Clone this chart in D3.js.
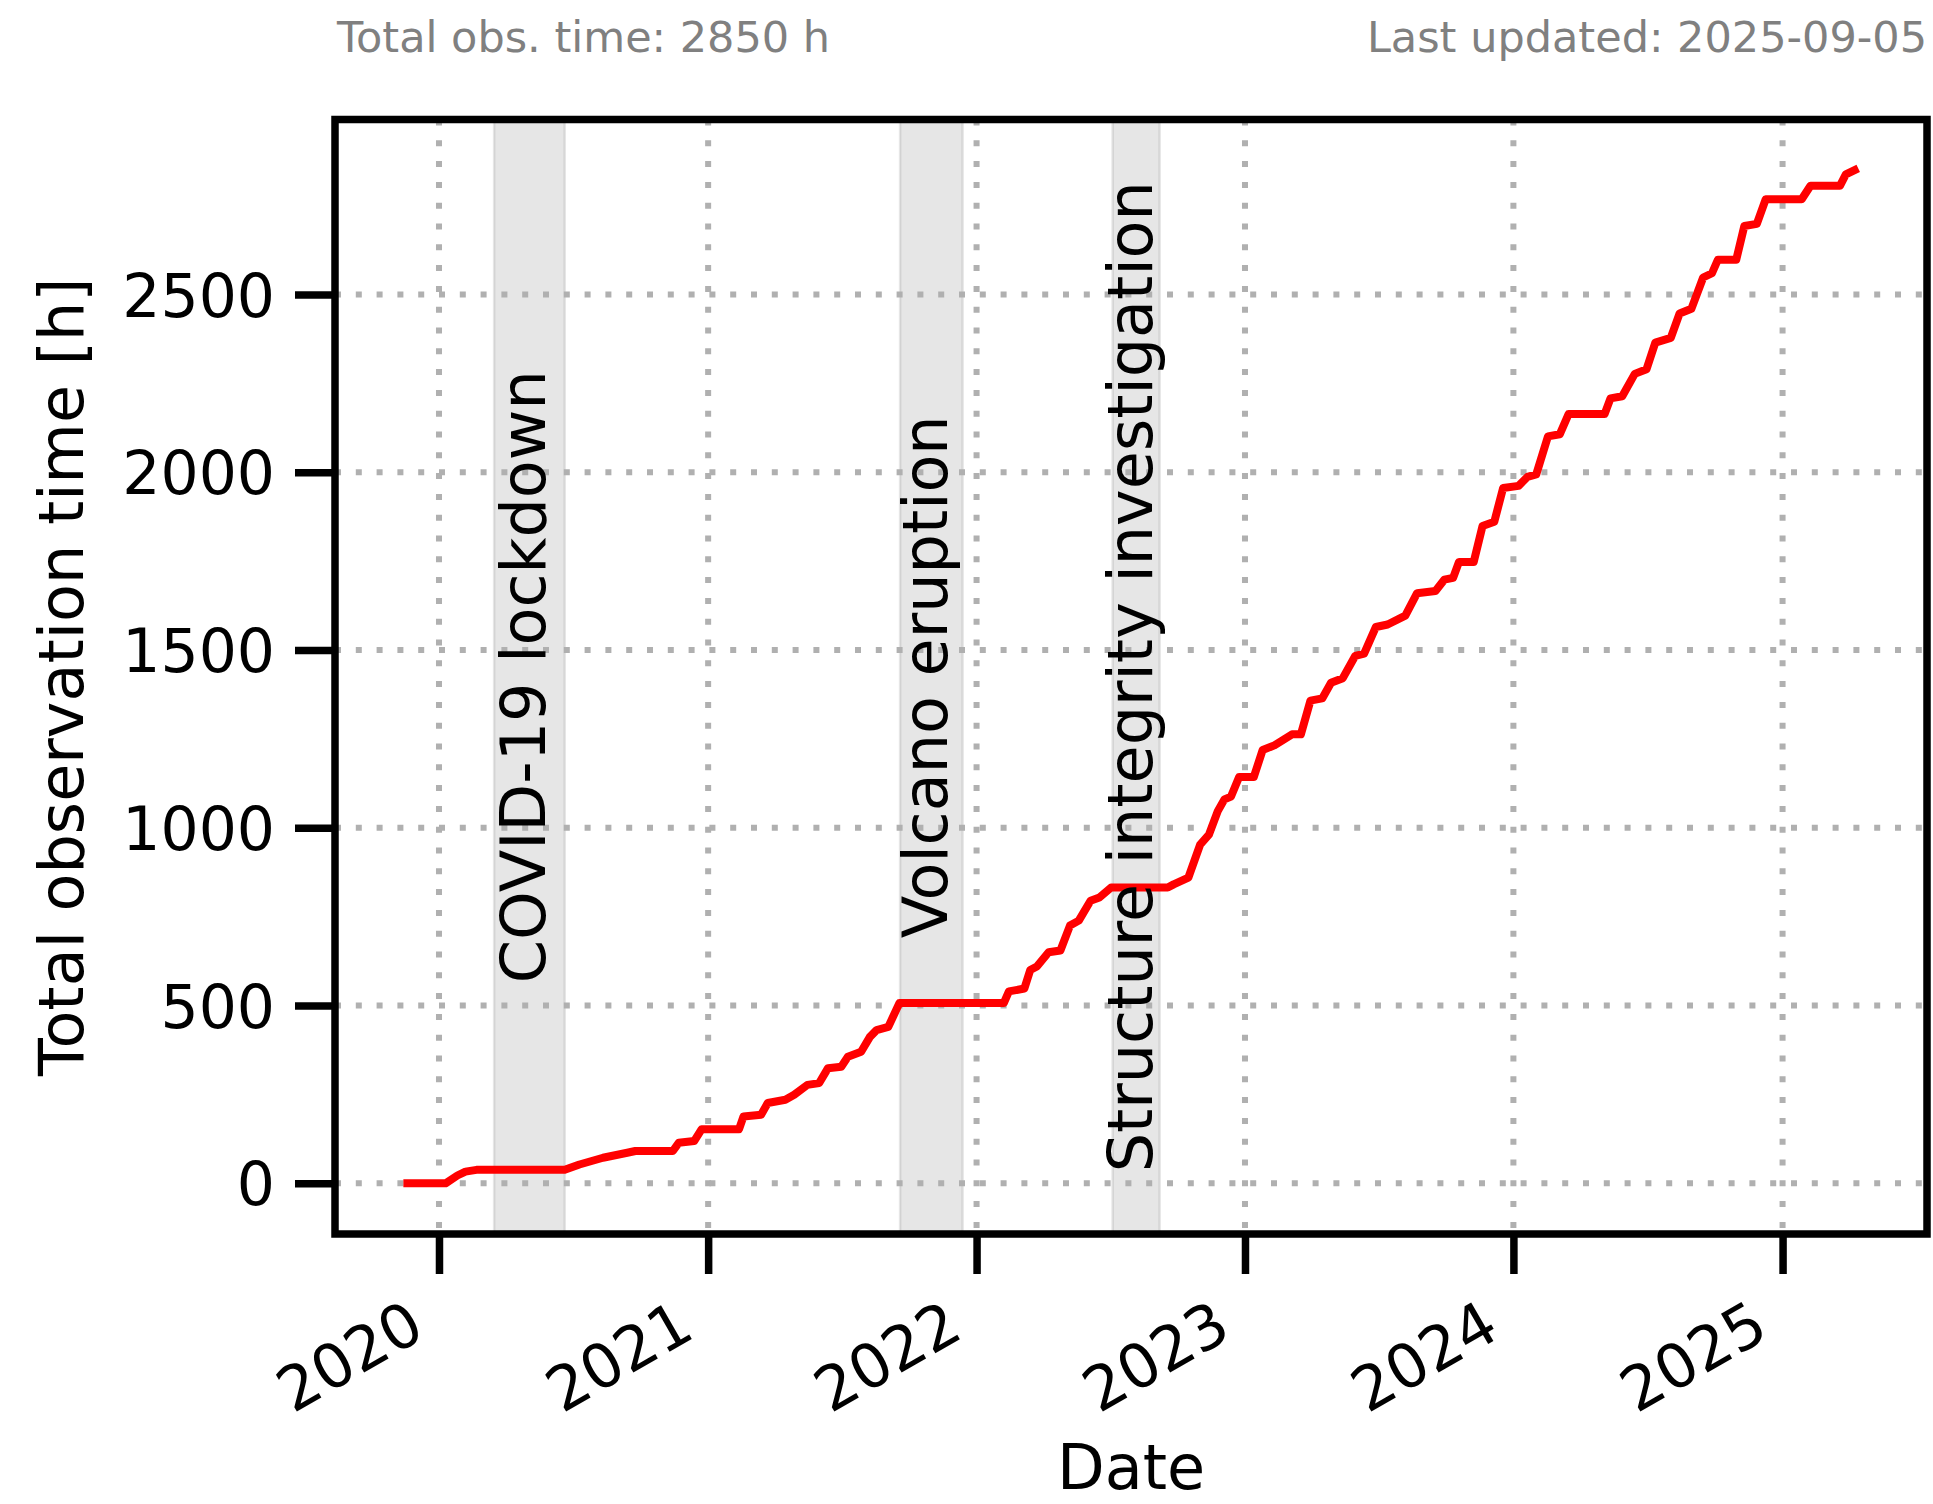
<!DOCTYPE html>
<html>
<head>
<meta charset="utf-8">
<script src="https://cdn.jsdelivr.net/npm/d3@7"></script>
<style>
  html, body { margin: 0; padding: 0; background: #ffffff; }
  svg text { font-family: "DejaVu Sans", sans-serif; }
</style>
</head>
<body>
<svg id="chart" width="1933" height="1504"></svg>
<script>
// Cumulative observing hours, sampled at each change of slope
const obsDates = [
  "2019-11-19","2020-01-10","2020-01-26","2020-02-06","2020-02-21","2020-06-20",
  "2020-07-10","2020-08-11","2020-09-13","2020-09-24","2020-11-14","2020-11-22","2020-12-13","2020-12-23",
  "2021-02-12","2021-02-18","2021-03-14","2021-03-23","2021-04-16","2021-04-28","2021-05-16","2021-06-01",
  "2021-06-13","2021-07-01","2021-07-10","2021-07-28","2021-08-09","2021-08-18","2021-09-03","2021-09-18",
  "2022-02-07","2022-02-14","2022-03-07","2022-03-15","2022-03-24","2022-04-09","2022-04-25","2022-05-08",
  "2022-05-20","2022-06-05","2022-06-17","2022-07-03","2022-09-18","2022-09-26","2022-10-16","2022-11-01",
  "2022-11-13","2022-11-25","2022-12-04","2022-12-13","2022-12-24",
  "2023-01-13","2023-01-25","2023-02-10","2023-03-06","2023-03-18","2023-03-31","2023-04-16","2023-04-28",
  "2023-05-14","2023-05-31","2023-06-12","2023-06-28","2023-07-14","2023-08-07","2023-08-23","2023-09-17",
  "2023-09-29","2023-10-11","2023-10-19","2023-11-08","2023-11-20","2023-12-06","2023-12-18",
  "2024-01-08","2024-01-20","2024-02-01","2024-02-17","2024-03-04","2024-03-16","2024-05-04","2024-05-12",
  "2024-05-28","2024-06-14","2024-06-30","2024-07-12","2024-08-02","2024-08-14","2024-08-30","2024-09-15",
  "2024-09-27","2024-10-05","2024-10-30","2024-11-10","2024-11-27","2024-12-09",
  "2025-01-27","2025-02-08","2025-03-20","2025-03-28","2025-04-09"
];
const obsHours = [
  0, 0, 22, 33, 38, 38,
  53, 72, 86, 91, 91, 114, 119, 152,
  152, 188, 193, 226, 235, 249, 277, 282,
  324, 328, 356, 370, 412, 431, 440, 507,
  507, 540, 548, 600, 610, 650, 655, 725,
  739, 795, 804, 832, 832, 841, 860, 953,
  981, 1047, 1080, 1088, 1143,
  1143, 1219, 1232, 1263, 1263, 1358, 1364, 1408,
  1421, 1484, 1490, 1565, 1572, 1597, 1660, 1666,
  1698, 1703, 1748, 1748, 1849, 1861, 1956,
  1962, 1987, 1994, 2101, 2107, 2164, 2164, 2208,
  2214, 2277, 2290, 2365, 2378, 2447, 2460, 2548,
  2560, 2598, 2598, 2693, 2699, 2768,
  2768, 2806, 2806, 2838, 2850
];

// Periods without observations
const pauseLabels = ["COVID-19 lockdown", "Volcano eruption", "Structure integrity investigation"];
const pauseStarts = ["2020-03-16", "2021-09-19", "2022-07-05"];
const pauseEnds   = ["2020-06-20", "2021-12-13", "2022-09-07"];

const yTickValues = [0, 500, 1000, 1500, 2000, 2500];
const xTickYears  = [2020, 2021, 2022, 2023, 2024, 2025];
const lastUpdated = "2025-09-05";

const parse = d3.timeParse("%Y-%m-%d");
const series = obsDates.map((d, i) => ({ date: parse(d), hours: obsHours[i] }));
const pauses = pauseLabels.map((name, i) => ({ name, start: parse(pauseStarts[i]), end: parse(pauseEnds[i]) }));

// Plot area
const plotL = 335, plotR = 1927, plotT = 119.5, plotB = 1234;
const fontSize = 62;

// Autoscale with 5% margins on both axes
const [t0, t1] = d3.extent(series, d => d.date);
const tPad = (t1 - t0) * 0.05;
const x = d3.scaleTime()
  .domain([new Date(+t0 - tPad), new Date(+t1 + tPad)])
  .range([plotL, plotR]);

const [h0, h1] = d3.extent(series, d => d.hours);
const hPad = (h1 - h0) * 0.05;
const y = d3.scaleLinear()
  .domain([h0 - hPad, h1 + hPad])
  .range([plotB, plotT]);

const svg = d3.select("#chart");

// Header notes
svg.append("text")
  .attr("x", plotL + 2).attr("y", 52)
  .attr("font-size", 43).attr("fill", "#808080")
  .text(`Total obs. time: ${d3.max(obsHours)} h`);
svg.append("text")
  .attr("x", plotR).attr("y", 52)
  .attr("text-anchor", "end")
  .attr("font-size", 43).attr("fill", "#808080")
  .text(`Last updated: ${lastUpdated}`);

// Shaded pauses
svg.append("g").selectAll("rect")
  .data(pauses)
  .join("rect")
  .attr("x", d => x(d.start))
  .attr("y", plotT)
  .attr("width", d => x(d.end) - x(d.start))
  .attr("height", plotB - plotT)
  .attr("fill", "rgba(128,128,128,0.2)")
  .attr("stroke", "rgba(128,128,128,0.2)")
  .attr("stroke-width", 2.5);

// Dotted grid
const tickDates = xTickYears.map(yr => new Date(yr, 0, 1));
const grid = svg.append("g")
  .attr("stroke", "#b0b0b0")
  .attr("stroke-width", 6)
  .attr("stroke-dasharray", "6 14.8");
grid.selectAll("line.gx")
  .data(tickDates)
  .join("line")
  .attr("class", "gx")
  .attr("x1", d => x(d)).attr("x2", d => x(d))
  .attr("y1", plotT).attr("y2", plotB);
grid.selectAll("line.gy")
  .data(yTickValues)
  .join("line")
  .attr("class", "gy")
  .attr("x1", plotL).attr("x2", plotR)
  .attr("y1", d => y(d)).attr("y2", d => y(d));

// Cumulative observation time
const line = d3.line()
  .x(d => x(d.date))
  .y(d => y(d.hours));
svg.append("path")
  .datum(series)
  .attr("d", line)
  .attr("fill", "none")
  .attr("stroke", "#ff0000")
  .attr("stroke-width", 8)
  .attr("stroke-linejoin", "round")
  .attr("stroke-linecap", "square");

// Pause labels, vertical, centred in each band
svg.append("g").selectAll("text")
  .data(pauses)
  .join("text")
  .attr("transform", d => {
    const cx = (x(d.start) + x(d.end)) / 2 + 16;
    const cy = (plotT + plotB) / 2;
    return `translate(${cx},${cy}) rotate(-90)`;
  })
  .attr("text-anchor", "middle")
  .attr("font-size", fontSize)
  .attr("fill", "#000")
  .text(d => d.name);

// Axes
const yAxis = svg.append("g")
  .attr("transform", `translate(${plotL},0)`)
  .call(d3.axisLeft(y).tickValues(yTickValues).tickFormat(d3.format("d")).tickSize(40).tickPadding(20));
yAxis.select(".domain").remove();
yAxis.selectAll(".tick line").attr("stroke", "#000").attr("stroke-width", 7.5);
yAxis.selectAll(".tick text")
  .attr("font-size", 60)
  .attr("font-family", "DejaVu Sans")
  .attr("fill", "#000")
  .attr("dy", "0.36em");

const xAxis = svg.append("g")
  .attr("transform", `translate(0,${plotB})`)
  .call(d3.axisBottom(x).tickValues(tickDates).tickFormat(d3.timeFormat("%Y")).tickSize(40));
xAxis.select(".domain").remove();
xAxis.selectAll(".tick line").attr("stroke", "#000").attr("stroke-width", 7.5);
xAxis.selectAll(".tick text")
  .attr("font-size", 61)
  .attr("font-family", "DejaVu Sans")
  .attr("fill", "#000")
  .attr("x", -12)
  .attr("y", 102)
  .attr("dy", 0)
  .attr("text-anchor", "end")
  .attr("transform", "rotate(-30,-12,102)");

// Frame
svg.append("rect")
  .attr("x", plotL).attr("y", plotT)
  .attr("width", plotR - plotL).attr("height", plotB - plotT)
  .attr("fill", "none")
  .attr("stroke", "#000")
  .attr("stroke-width", 7.5);

// Axis titles
svg.append("text")
  .attr("x", (plotL + plotR) / 2).attr("y", 1489)
  .attr("text-anchor", "middle")
  .attr("font-size", fontSize)
  .text("Date");
svg.append("text")
  .attr("transform", `translate(83,${(plotT + plotB) / 2}) rotate(-90)`)
  .attr("text-anchor", "middle")
  .attr("font-size", fontSize)
  .text("Total observation time [h]");
</script>
</body>
</html>
